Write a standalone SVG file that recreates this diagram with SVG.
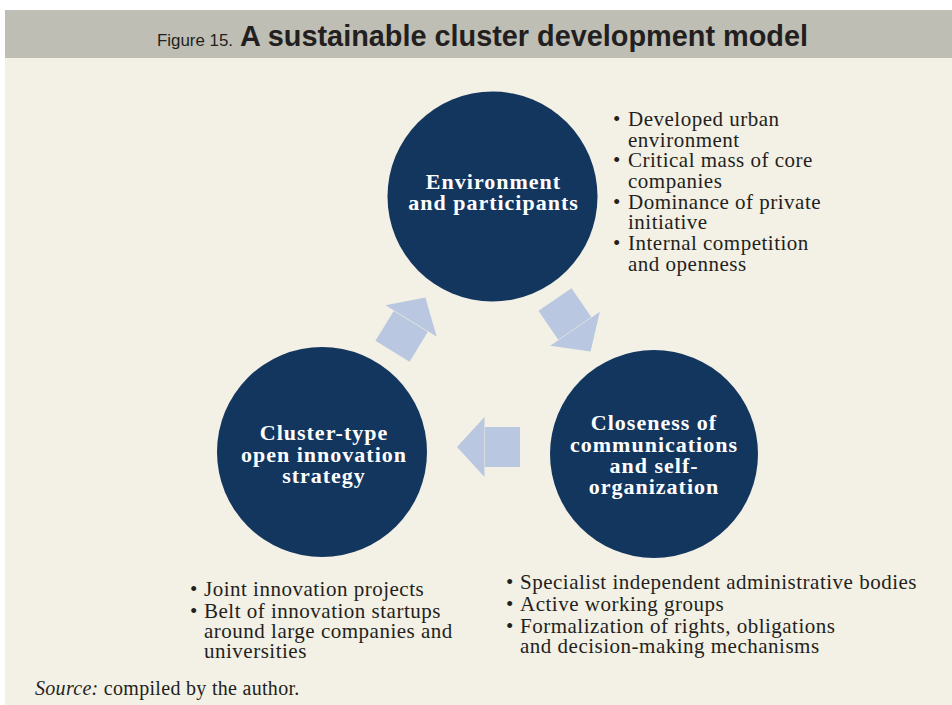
<svg xmlns="http://www.w3.org/2000/svg" width="952" height="705" viewBox="0 0 952 705">
<style>
.circle{fill:#13365F}
.ctext{font-family:"Liberation Serif","Times New Roman",serif;font-weight:bold;font-size:22px;letter-spacing:1px;fill:#FFFFFF;text-anchor:middle}
.btext{font-family:"Liberation Serif","Times New Roman",serif;font-size:21px;letter-spacing:0.5px;fill:#231F20}
.arrow{fill:#B9C8E0}
</style>
<defs>
<g id="arr">
<rect x="0" y="-20" width="35" height="40" class="arrow"/>
<polygon points="35.5,-30 63,0 35.5,30" class="arrow"/>
</g>
</defs>
<rect x="0" y="0" width="952" height="705" fill="#FFFFFF"/>
<rect x="5" y="10" width="947" height="48" fill="#BEBEB4"/>
<rect x="5" y="58" width="947" height="647" fill="#F3F0E5"/>
<g id="title">
<text x="157" y="46" font-family="'Liberation Sans',Arial,sans-serif" font-size="16" fill="#231F20" textLength="76" lengthAdjust="spacingAndGlyphs">Figure 15.</text>
<text x="240" y="46" font-family="'Liberation Sans',Arial,sans-serif" font-weight="bold" font-size="29" fill="#231F20" textLength="568" lengthAdjust="spacingAndGlyphs">A sustainable cluster development model</text>
</g>
<g id="connectors">
<use href="#arr" transform="translate(392.5,351.2) rotate(-58.5)"/>
<use href="#arr" transform="translate(555,299.5) rotate(55.6)"/>
<use href="#arr" transform="translate(520,447) rotate(180)"/>
</g>
<g id="node-environment">
<circle cx="492.5" cy="196.5" r="105" class="circle"/>
<text class="ctext"><tspan x="493.5" y="189">Environment</tspan><tspan x="493.5" y="210">and participants</tspan></text>
</g>
<g id="node-closeness">
<circle cx="654" cy="454" r="104" class="circle"/>
<text class="ctext"><tspan x="654" y="430">Closeness of</tspan><tspan x="654" y="452">communications</tspan><tspan x="654" y="473">and self-</tspan><tspan x="654" y="494">organization</tspan></text>
</g>
<g id="node-cluster">
<circle cx="322" cy="452" r="105" class="circle"/>
<text class="ctext"><tspan x="324" y="440">Cluster-type</tspan><tspan x="324" y="462">open innovation</tspan><tspan x="324" y="483">strategy</tspan></text>
</g>
<g id="list-environment">
<text class="btext"><tspan x="613" y="126">•</tspan><tspan x="628" y="126">Developed urban</tspan><tspan x="628" y="146.5">environment</tspan><tspan x="613" y="167">•</tspan><tspan x="628" y="167">Critical mass of core</tspan><tspan x="628" y="187.5">companies</tspan><tspan x="613" y="208.5">•</tspan><tspan x="628" y="208.5">Dominance of private</tspan><tspan x="628" y="229">initiative</tspan><tspan x="613" y="250">•</tspan><tspan x="628" y="250">Internal competition</tspan><tspan x="628" y="270.5">and openness</tspan></text>
</g>
<g id="list-closeness">
<text class="btext"><tspan x="506" y="589">•</tspan><tspan x="520" y="589">Specialist independent administrative bodies</tspan><tspan x="506" y="611">•</tspan><tspan x="520" y="611">Active working groups</tspan><tspan x="506" y="633">•</tspan><tspan x="520" y="633">Formalization of rights, obligations</tspan><tspan x="520" y="653">and decision-making mechanisms</tspan></text>
</g>
<g id="list-cluster">
<text class="btext"><tspan x="190" y="596">•</tspan><tspan x="204" y="596">Joint innovation projects</tspan><tspan x="190" y="617.5">•</tspan><tspan x="204" y="617.5">Belt of innovation startups</tspan><tspan x="204" y="638">around large companies and</tspan><tspan x="204" y="658">universities</tspan></text>
</g>
<g id="source">
<text x="35" y="695" font-family="'Liberation Serif','Times New Roman',serif" font-size="20" letter-spacing="0.3" fill="#231F20"><tspan font-style="italic">Source:</tspan> compiled by the author.</text>
</g>
</svg>
